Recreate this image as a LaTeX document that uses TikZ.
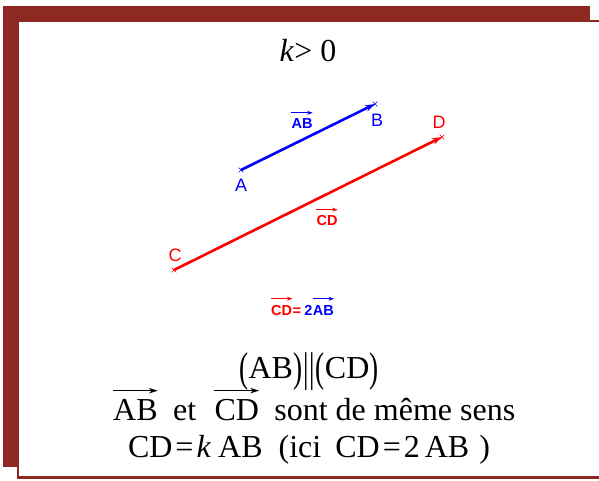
\documentclass[tikz,border=0pt]{standalone}
\usepackage{fontspec}
\setmainfont{Liberation Serif}
\newfontfamily\arialf{Liberation Sans}
\usetikzlibrary{arrows.meta,shapes.misc}
\definecolor{framered}{RGB}{141,41,33}
\definecolor{vblue}{RGB}{0,0,255}
\definecolor{vred}{RGB}{255,0,0}
\newcommand\tallp[1]{\raisebox{-3pt}{\scalebox{0.85}[1.3]{#1}}}
\begin{document}
\begin{tikzpicture}[x=1pt,y=-1pt,
  big/.style={font=\fontsize{32}{38}\selectfont, inner sep=0pt},
  ptlabel/.style={font=\arialf\fontsize{18}{20}\selectfont, inner sep=0pt},
  veclabel/.style={font=\arialf\bfseries\fontsize{14.5}{16}\selectfont, inner sep=0pt},
  vecline/.style={line width=2.6pt, -{Stealth[length=10pt,width=6.5pt]}},
  smallarrow/.style={line width=0.9pt, -{Stealth[length=5.5pt,width=4pt]}},
  bigarrow/.style={line width=1.4pt, -{Stealth[length=9pt,width=5.5pt]}},
  pt/.style={cross out, draw, minimum size=4pt, inner sep=0pt, line width=0.6pt}
]
\useasboundingbox (0,0) rectangle (599,480);
\fill[white] (0,0) rectangle (599,480);
% frame
\fill[framered] (3,6) rectangle (590,467);
\filldraw[fill=white, draw=framered, line width=2.5pt] (18,21) rectangle (640,477.5);

% title
\node[big, anchor=base] (title) at (308,61) {\textit{k}> 0};

% points
\node[pt, draw=vblue] (A) at (241,170) {};
\node[pt, draw=vblue] (B) at (375,104) {};
\node[pt, draw=vred] (C) at (174,270) {};
\node[pt, draw=vred] (D) at (442,137) {};

% vectors
\draw[vecline, vblue] (A.center) -- (B.center);
\draw[vecline, vred] (C.center) -- (D.center);

% point labels
\node[ptlabel, text=vblue] (lA) at (241,185) {A};
\node[ptlabel, text=vblue] (lB) at (377,120) {B};
\node[ptlabel, text=vred] (lC) at (175,255) {C};
\node[ptlabel, text=vred] (lD) at (439,122) {D};

% vector labels
\node[veclabel, text=vblue] (lab) at (302,124) {AB};
\draw[smallarrow, vblue] ([yshift=6pt]lab.north west) -- ([yshift=6pt]lab.north east);
\node[veclabel, text=vred] (lcd) at (327,221) {CD};
\draw[smallarrow, vred] ([yshift=6pt]lcd.north west) -- ([yshift=6pt]lcd.north east);

% relation label
\node[veclabel, text=vred, anchor=base west] (bcd) at (271,315) {CD};
\node[veclabel, text=vred, anchor=base west] (beq) at (bcd.base east) {=\kern3pt};
\node[veclabel, text=vblue, anchor=base west] (btwo) at (beq.base east) {2};
\node[veclabel, text=vblue, anchor=base west] (bab) at (btwo.base east) {AB};
\draw[smallarrow, vred] ([yshift=6pt]bcd.north west) -- ([yshift=6pt]bcd.north east);
\draw[smallarrow, vblue] ([yshift=6pt]bab.north west) -- ([yshift=6pt]bab.north east);

% line 1
\node[big, anchor=base] (par) at (309,378) {\tallp{(}AB\tallp{)}\kern1pt\tallp{|\kern1pt|}\kern1pt\tallp{(}CD\tallp{)}};

% line 2
\node[big, anchor=base west] (vab) at (113,420) {AB};
\node[big, anchor=base west] (et) at (vab.base east) {\kern15pt et\kern18pt};
\node[big, anchor=base west] (vcd) at (et.base east) {CD};
\node[big, anchor=base west] (rest) at (vcd.base east) {\kern15pt sont de même sens};
\draw[bigarrow] ([yshift=8pt]vab.north west) -- ([yshift=8pt]vab.north east);
\draw[bigarrow] ([yshift=8pt]vcd.north west) -- ([yshift=8pt]vcd.north east);

% line 3
\node[big, anchor=base] (line3) at (309,457) {CD\kern3pt=\kern3pt\textit{k}\kern7pt AB\kern16pt(ici\kern14pt CD\kern3pt=\kern3pt2\kern5pt AB\kern10pt)};
\end{tikzpicture}
\end{document}
